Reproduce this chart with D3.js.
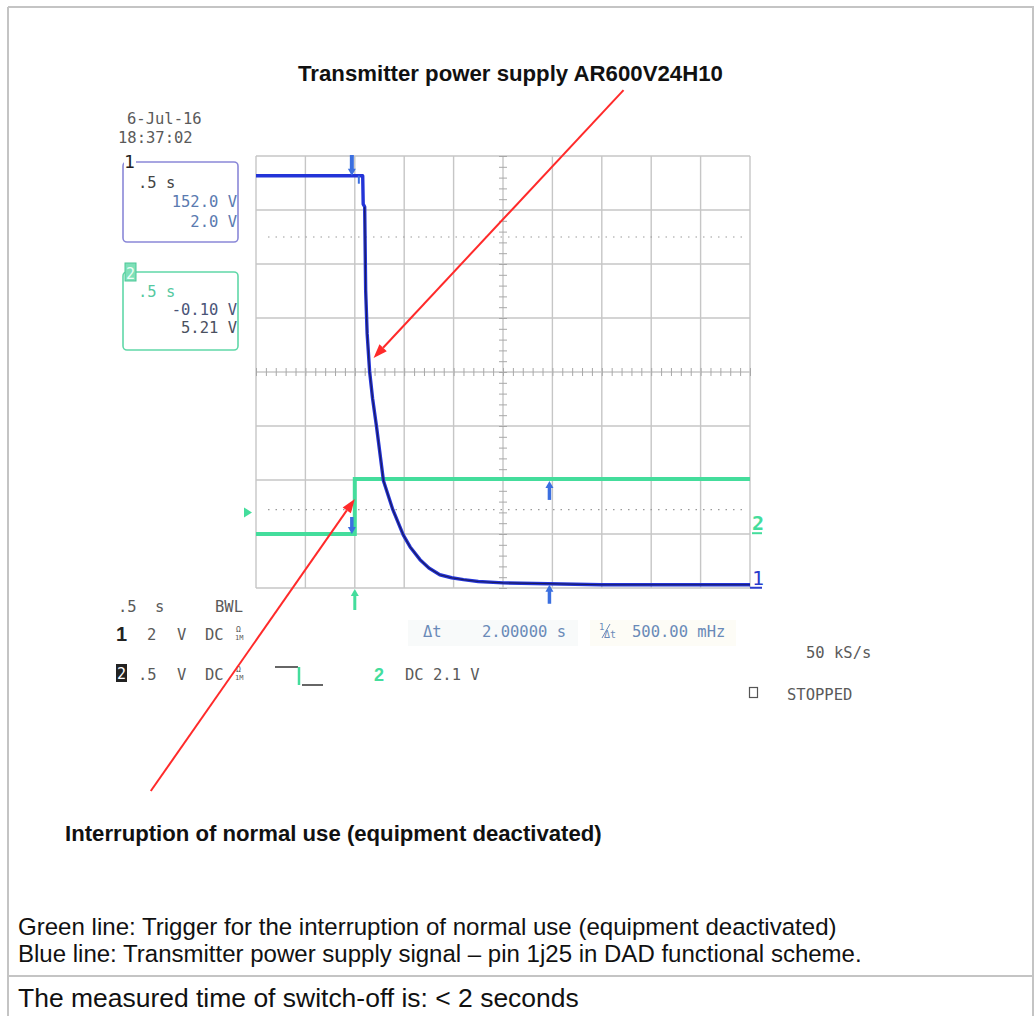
<!DOCTYPE html>
<html><head><meta charset="utf-8">
<script src="https://cdn.jsdelivr.net/npm/d3@7"></script>
<style>body{margin:0;background:#fff}svg{display:block}</style>
</head><body>
<svg id="c" width="1034" height="1016"></svg>
<script>
// ---------------- data ----------------
const timebase = 0.5;                 // s/div
const timeRange = [-1.0, 4.0];        // s, screen left/right
const divRange = [-4, 4];             // vertical divisions
// Channel 1 (blue): transmitter power supply
const ch1Time  = [-1.0, 0.08, 0.085, 0.10, 0.11, 0.125, 0.15, 0.18, 0.22, 0.29, 0.385, 0.49, 0.56, 0.66, 0.75, 0.86, 0.98, 1.10, 1.25, 1.50, 2.50, 4.00];
const ch1Volts = [15.15, 15.15, 14.1, 14.0, 10.9, 9.3, 7.9, 6.9, 5.85, 3.85, 2.78, 1.85, 1.4, 0.93, 0.62, 0.37, 0.26, 0.19, 0.12, 0.07, 0.0, 0.0];
const ch1VoltsPerDiv = 2, ch1OffsetDiv = -3.94;
// Channel 2 (green): trigger
const ch2Time  = [-1.0, 0.0, 0.0, 4.0];
const ch2Volts = [-0.10, -0.10, 0.41, 0.41];
const ch2VoltsPerDiv = 0.5, ch2OffsetDiv = -2.80;
const cursorTimes = [-0.03, 1.97];
const refLevelsDiv = [2.5, -2.55];
const triggerTime = 0.0, triggerLevelDiv = -2.6;
// annotations (time s, division)
const annotations = [
  {from:[2.72, 5.22], to:[0.19, 0.26]},
  {from:[-2.065, -7.76], to:[0.0, -2.35]}
];
const titleText = "Transmitter power supply AR600V24H10";
const noteText = "Interruption of normal use (equipment deactivated)";
const captionLines = ["Green line: Trigger for the interruption of normal use (equipment deactivated)",
  "Blue line: Transmitter power supply signal \u2013 pin 1j25 in DAD functional scheme."];
const resultText = "The measured time of switch-off is: < 2 seconds";

// ---------------- drawing ----------------
const svg = d3.select("#c");
const X0 = 256, X1 = 750, Y0 = 156, Y1 = 588;
const x = d3.scaleLinear().domain(timeRange).range([X0, X1]);
const y = d3.scaleLinear().domain(divRange).range([Y1, Y0]);
const d1 = v => v / ch1VoltsPerDiv + ch1OffsetDiv;
const d2 = v => v / ch2VoltsPerDiv + ch2OffsetDiv;
const mono = "'DejaVu Sans Mono', monospace";
const sans = "'Liberation Sans', Arial, sans-serif";
const blueC = "#3b6fe0", greenC = "#44dd9c", scopeGray = "#5a5a5a", scopeBlue = "#5a7ab0";

// page borders
const pg = svg.append("g").attr("stroke", "#c4c4c4").attr("stroke-width", 2);
pg.append("line").attr("x1", 8).attr("x2", 8).attr("y1", 7).attr("y2", 1016);
pg.append("line").attr("x1", 8).attr("x2", 1034).attr("y1", 7).attr("y2", 7);
pg.append("line").attr("x1", 1033).attr("x2", 1033).attr("y1", 7).attr("y2", 1016);
pg.append("line").attr("x1", 8).attr("x2", 1034).attr("y1", 976).attr("y2", 976);

function fit(sel, w) {
  const fs = parseFloat(sel.attr("font-size"));
  const cw = sel.node().getComputedTextLength();
  sel.attr("font-size", (fs * w / cw).toFixed(2));
}

// titles
fit(svg.append("text").attr("x", 298).attr("y", 81).attr("font-family", sans).attr("font-weight", "bold")
  .attr("font-size", 20).attr("fill", "#111").text(titleText), 425);
fit(svg.append("text").attr("x", 65).attr("y", 841).attr("font-family", sans).attr("font-weight", "bold")
  .attr("font-size", 18).attr("fill", "#111").text(noteText), 537);
fit(svg.append("text").attr("x", 18).attr("y", 935).attr("font-family", sans)
  .attr("font-size", 20).attr("fill", "#111").text(captionLines[0]), 819);
fit(svg.append("text").attr("x", 18).attr("y", 962).attr("font-family", sans)
  .attr("font-size", 20).attr("fill", "#111").text(captionLines[1]), 844);
fit(svg.append("text").attr("x", 18).attr("y", 1007).attr("font-family", sans)
  .attr("font-size", 24).attr("fill", "#111").text(resultText), 561);

// faint highlight areas
svg.append("rect").attr("x", 408).attr("y", 620).attr("width", 170).attr("height", 26).attr("fill", "#f8fafa");
svg.append("rect").attr("x", 590).attr("y", 620).attr("width", 146).attr("height", 26).attr("fill", "#fdfcf6");

// grid
const grid = svg.append("g").attr("stroke", "#c6c6c6").attr("stroke-width", 1.4);
grid.selectAll("line.v").data(d3.range(timeRange[0], timeRange[1] + 1e-9, timebase)).join("line")
  .attr("x1", d => x(d)).attr("x2", d => x(d)).attr("y1", Y0).attr("y2", Y1);
grid.selectAll("line.h").data(d3.range(divRange[0], divRange[1] + 1e-9, 1)).join("line")
  .attr("x1", X0).attr("x2", X1).attr("y1", d => y(d)).attr("y2", d => y(d));

// center axes with minor ticks
const xMid = (timeRange[0] + timeRange[1]) / 2;
const ax = svg.append("g").attr("transform", `translate(0,${y(0) - 4})`)
  .call(d3.axisBottom(x).tickValues(d3.range(timeRange[0], timeRange[1] + 1e-9, timebase / 5)).tickSize(8).tickFormat(""));
ax.select(".domain").remove();
ax.selectAll("line").attr("stroke", "#a8a8a8");
const ay = svg.append("g").attr("transform", `translate(${x(xMid) - 4},0)`)
  .call(d3.axisRight(y).tickValues(d3.range(divRange[0], divRange[1] + 1e-9, 0.2)).tickSize(8).tickFormat(""));
ay.select(".domain").remove();
ay.selectAll("line").attr("stroke", "#a8a8a8");

// dotted reference levels
svg.selectAll("line.ref").data(refLevelsDiv).join("line")
  .attr("x1", X0 + 12).attr("x2", X1 - 6).attr("y1", d => y(d)).attr("y2", d => y(d))
  .attr("stroke", "#9a9a9a").attr("stroke-width", 1.2).attr("stroke-dasharray", "1.5,6");

// traces
const ch2 = ch2Time.map((t, i) => ({t, v: d2(ch2Volts[i])}));
const ch1 = ch1Time.map((t, i) => ({t, v: d1(ch1Volts[i])}));
svg.append("path").datum(ch2).attr("fill", "none").attr("stroke", greenC).attr("stroke-width", 4)
  .attr("d", d3.line().x(d => x(d.t)).y(d => y(d.v)));
const l1 = d3.line().x(d => x(d.t)).y(d => y(d.v));
svg.append("path").datum(ch1).attr("fill", "none").attr("stroke", "#2334d8").attr("stroke-width", 3.4)
  .attr("stroke-linejoin", "round").attr("d", l1);
svg.append("path").datum(ch1.slice(3)).attr("fill", "none").attr("stroke", "#1c1c60").attr("stroke-width", 1.2)
  .attr("stroke-linejoin", "round").attr("d", l1);

function valueAt(ts, vs, t) {
  for (let i = 0; i < ts.length - 1; i++) {
    if (t >= ts[i] && t <= ts[i + 1]) {
      const f = ts[i + 1] === ts[i] ? 0 : (t - ts[i]) / (ts[i + 1] - ts[i]);
      return vs[i] + f * (vs[i + 1] - vs[i]);
    }
  }
  return vs[vs.length - 1];
}
function arrow(g, xx, yFrom, yTo, color, w) {
  const dir = yTo > yFrom ? 1 : -1;
  g.append("line").attr("x1", xx).attr("x2", xx).attr("y1", yFrom).attr("y2", yTo - dir * 5)
    .attr("stroke", color).attr("stroke-width", w);
  g.append("path").attr("d", `M${xx - 4},${yTo - dir * 7}L${xx + 4},${yTo - dir * 7}L${xx},${yTo}Z`).attr("fill", color);
}
const cg = svg.append("g");
{
  const t = cursorTimes[0];
  const yb = y(d1(valueAt(ch1Time, ch1Volts, t)));
  const yg = y(d2(valueAt(ch2Time, ch2Volts, -0.5)));
  arrow(cg, x(t), Y0 - 1, yb, blueC, 4);
  arrow(cg, x(t), yg - 17, yg, blueC, 3.5);
  cg.append("line").attr("x1", x(t) + 7).attr("x2", x(t) + 7).attr("y1", yb).attr("y2", yb + 8).attr("stroke", blueC).attr("stroke-width", 2);
}
{
  const t = cursorTimes[1];
  const yb = y(d1(valueAt(ch1Time, ch1Volts, t)));
  const yg = y(d2(valueAt(ch2Time, ch2Volts, t)));
  arrow(cg, x(t), yg + 21, yg + 2, blueC, 3.5);
  arrow(cg, x(t), yb + 20, yb + 1, blueC, 3.5);
}
arrow(svg.append("g"), x(triggerTime), Y1 + 22, Y1 + 1, greenC, 3);
svg.append("path").attr("d", `M${X0 - 12},${y(triggerLevelDiv) - 5}L${X0 - 12},${y(triggerLevelDiv) + 5}L${X0 - 4},${y(triggerLevelDiv)}Z`).attr("fill", greenC);

// channel ground markers on right
svg.append("text").attr("x", X1 + 2).attr("y", y(ch2OffsetDiv) + 7).attr("font-family", mono).attr("font-size", 20)
  .attr("font-weight", "bold").attr("fill", greenC).text("2");
svg.append("line").attr("x1", X1 + 2).attr("x2", X1 + 12).attr("y1", y(ch2OffsetDiv) + 10).attr("y2", y(ch2OffsetDiv) + 10).attr("stroke", greenC).attr("stroke-width", 2);
svg.append("text").attr("x", X1 + 2).attr("y", y(ch1OffsetDiv) + 0).attr("font-family", mono).attr("font-size", 20)
  .attr("fill", "#2a3ccc").text("1");
svg.append("line").attr("x1", X1).attr("x2", X1 + 12).attr("y1", y(ch1OffsetDiv) + 3).attr("y2", y(ch1OffsetDiv) + 3).attr("stroke", "#2a3ccc").attr("stroke-width", 2);

// ---------- scope annotation text ----------
function st(xx, yy, txt, color, opts = {}) {
  return svg.append("text").attr("x", xx).attr("y", yy).attr("font-family", opts.family || mono)
    .attr("font-size", opts.size || 15.5).attr("fill", color || scopeGray)
    .attr("font-weight", opts.weight || "normal").attr("text-anchor", opts.anchor || "start").text(txt);
}
st(127, 124, "6-Jul-16");
st(118, 143, "18:37:02");

svg.append("rect").attr("x", 123).attr("y", 162).attr("width", 115).attr("height", 80).attr("rx", 4)
  .attr("fill", "none").attr("stroke", "#8a88d8").attr("stroke-width", 1.6);
svg.append("rect").attr("x", 124).attr("y", 154).attr("width", 12).attr("height", 16).attr("fill", "#fff");
st(124, 168, "1", "#222", {size: 18});
st(138, 188, ".5 s", "#444");
st(237, 207, "152.0 V", scopeBlue, {anchor: "end"});
st(237, 227, "2.0 V", scopeBlue, {anchor: "end"});
svg.append("rect").attr("x", 123).attr("y", 272).attr("width", 115).attr("height", 78).attr("rx", 4)
  .attr("fill", "none").attr("stroke", "#60d8a8").attr("stroke-width", 1.6);
svg.append("rect").attr("x", 125).attr("y", 263).attr("width", 11).attr("height", 18).attr("fill", "#7ee0b8").attr("stroke", "#4cc898");
st(126, 279, "2", "#eafff6", {size: 15});
st(138, 297, ".5 s", "#55c8a0");
st(237, 315, "-0.10 V", "#4a5478", {anchor: "end"});
st(237, 333, "5.21 V", "#4a5060", {anchor: "end"});

st(118, 612, ".5");
st(155, 612, "s");
st(215, 612, "BWL");
st(116, 641, "1", "#222", {size: 20, weight: "bold", family: sans});
st(147, 640, "2");
st(177, 640, "V");
st(205, 640, "DC");
function couplingIcon(xx, yy) {
  st(xx, yy - 8, "\u03A9", scopeGray, {size: 8});
  st(xx - 1, yy, "1M", scopeGray, {size: 7});
}
couplingIcon(236, 640);
st(423, 637, "\u0394t", "#6a8ab8");
st(482, 637, "2.00000 s", "#6a8ab8");
st(599, 630, "1", "#6a8ab8", {size: 9});
svg.append("line").attr("x1", 602).attr("x2", 610).attr("y1", 638).attr("y2", 624).attr("stroke", "#6a8ab8").attr("stroke-width", 1);
st(604, 638, "\u0394t", "#6a8ab8", {size: 10});
st(632, 637, "500.00 mHz", "#6a8ab8");

svg.append("rect").attr("x", 116).attr("y", 664).attr("width", 11).attr("height", 18).attr("fill", "#222");
st(117, 679, "2", "#fff", {size: 15});
st(138, 680, ".5");
st(177, 680, "V");
st(205, 680, "DC");
couplingIcon(236, 680);
svg.append("path").attr("d", "M275,667L298,667").attr("stroke", "#333").attr("stroke-width", 1.5);
svg.append("path").attr("d", "M299,667L299,685").attr("stroke", greenC).attr("stroke-width", 2.5);
svg.append("path").attr("d", "M302,685L323,685").attr("stroke", "#333").attr("stroke-width", 1.5);
st(374, 681, "2", greenC, {size: 18, weight: "bold", family: sans});
st(405, 680, "DC 2.1 V");
st(806, 658, "50 kS/s");
svg.append("rect").attr("x", 749.5).attr("y", 687.5).attr("width", 8).attr("height", 10).attr("fill", "none").attr("stroke", "#555").attr("stroke-width", 1.2);
st(787, 700, "STOPPED");

const ag = svg.append("g");
annotations.forEach(a => {
  const x1 = x(a.from[0]), y1 = y(a.from[1]), x2 = x(a.to[0]), y2 = y(a.to[1]);
  const ang = Math.atan2(y2 - y1, x2 - x1), L = 14, W = 5;
  const bx = x2 - L * Math.cos(ang), by = y2 - L * Math.sin(ang);
  ag.append("line").attr("x1", x1).attr("y1", y1).attr("x2", bx).attr("y2", by).attr("stroke", "#ff2a2a").attr("stroke-width", 2);
  ag.append("path").attr("fill", "#ff2a2a").attr("d",
    `M${x2},${y2}L${bx + W * Math.sin(ang)},${by - W * Math.cos(ang)}L${bx - W * Math.sin(ang)},${by + W * Math.cos(ang)}Z`);
});
</script>
</body></html>
